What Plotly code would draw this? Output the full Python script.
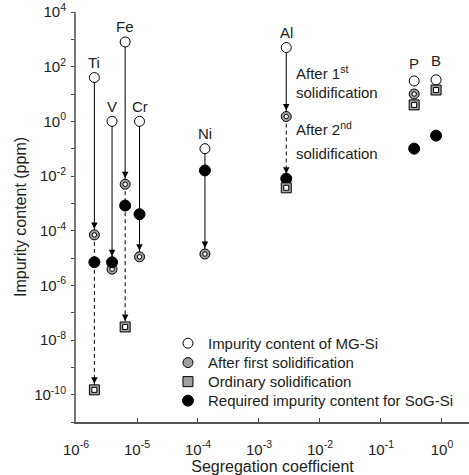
import math
import plotly.graph_objects as go

# ---------------- data ----------------
elements = ["Ti", "V", "Fe", "Cr", "Ni", "Al", "P", "B"]
seg_coef = [2.0e-6, 3.9e-6, 6.4e-6, 1.1e-5, 1.3e-4, 2.8e-3, 0.35, 0.8]
mg_si = [40, 1, 800, 1, 0.1, 500, 30, 33]
after_first = [7e-5, 3.9e-6, 5e-3, 1.1e-5, 1.4e-5, 1.5, 10, None]
ordinary = [1.5e-10, None, 3e-8, None, None, 3.7e-3, 4, 14]
required = [7e-6, 7e-6, 8.3e-4, 4e-4, 1.6e-2, 8e-3, 0.1, 0.3]

x_tick_vals = [1e-6, 1e-5, 1e-4, 1e-3, 1e-2, 1e-1, 1e0]
x_tick_text = ["10<sup>-6</sup>", "10<sup>-5</sup>", "10<sup>-4</sup>", "10<sup>-3</sup>",
               "10<sup>-2</sup>", "10<sup>-1</sup>", "10<sup>0</sup>"]
y_exponents = list(range(-11, 5))
y_tick_vals = [10.0 ** e for e in y_exponents]
y_tick_text = [("10<sup>%d</sup>" % e) if e % 2 == 0 else "" for e in y_exponents]

legend_names = ["Impurity content of MG-Si", "After first solidification",
                "Ordinary solidification", "Required impurity content for SoG-Si"]

# ---------------- styling ----------------
FONT = "Liberation Sans, Arial, sans-serif"
GRAY = "#a0a0a0"
arrow_standoff = {"V": 13}
ord_standoff = {"Al": 14}
label_shift = {"P": 17, "B": 19}
legend_x = 0.234
legend_rows = [0.1916, 0.1443, 0.0979, 0.0515]

fig = go.Figure()

sx, sy, dx, dy = [], [], [], []
for k, m, f, o in zip(seg_coef, mg_si, after_first, ordinary):
    if m is not None and f is not None and f < m * 0.01:
        sx += [k, k, None]
        sy += [m, f, None]
        if o is not None:
            dx += [k, k, None]
            dy += [f, o, None]

fig.add_trace(go.Scatter(x=sx, y=sy, mode="lines", line=dict(color="black", width=1),
                         showlegend=False, hoverinfo="skip"))
fig.add_trace(go.Scatter(x=dx, y=dy, mode="lines",
                         line=dict(color="black", width=1, dash="4px,3px"),
                         showlegend=False, hoverinfo="skip"))

fig.add_trace(go.Scatter(x=seg_coef, y=after_first, mode="markers", name=legend_names[1],
                         legend="legend2",
                         marker=dict(symbol="circle", size=10, color=GRAY,
                                     line=dict(color="black", width=1))))
fig.add_trace(go.Scatter(x=seg_coef, y=after_first, mode="markers", showlegend=False,
                         marker=dict(symbol="circle", size=4.5, color="white",
                                     line=dict(color="black", width=1))))
fig.add_trace(go.Scatter(x=seg_coef, y=required, mode="markers", name=legend_names[3],
                         legend="legend4",
                         marker=dict(symbol="circle", size=11, color="black",
                                     line=dict(color="black", width=1))))
fig.add_trace(go.Scatter(x=seg_coef, y=ordinary, mode="markers", name=legend_names[2],
                         legend="legend3",
                         marker=dict(symbol="square", size=10, color=GRAY,
                                     line=dict(color="black", width=1))))
fig.add_trace(go.Scatter(x=seg_coef, y=ordinary, mode="markers", showlegend=False,
                         marker=dict(symbol="square", size=5, color="white",
                                     line=dict(color="black", width=1))))
fig.add_trace(go.Scatter(x=seg_coef, y=mg_si, mode="markers", name=legend_names[0],
                         legend="legend",
                         marker=dict(symbol="circle", size=10, color="white",
                                     line=dict(color="black", width=1))))

annotations = []
for el, k, m, f, o in zip(elements, seg_coef, mg_si, after_first, ordinary):
    if m is not None and f is not None and f < m * 0.01:
        so = arrow_standoff.get(el, 6)
        annotations.append(dict(x=math.log10(k), y=math.log10(f), xref="x", yref="y",
                                text="", showarrow=True, ax=0, ay=-(so + 8),
                                arrowhead=2, arrowsize=1.3, arrowwidth=1,
                                arrowcolor="black", standoff=so))
        if o is not None:
            so2 = ord_standoff.get(el, 6)
            annotations.append(dict(x=math.log10(k), y=math.log10(o), xref="x", yref="y",
                                    text="", showarrow=True, ax=0, ay=-(so2 + 8),
                                    arrowhead=2, arrowsize=1.3, arrowwidth=1,
                                    arrowcolor="black", standoff=so2))
for el, k, m in zip(elements, seg_coef, mg_si):
    annotations.append(dict(x=math.log10(k), y=math.log10(m), xref="x", yref="y",
                            text=el, showarrow=False, yshift=label_shift.get(el, 15),
                            font=dict(size=15, family=FONT, color="#222")))
al_x = math.log10(seg_coef[elements.index("Al")])
for txt, yy in [("After 1<sup>st</sup>", 1.80), ("solidification", 1.06),
                ("After 2<sup>nd</sup>", -0.26), ("solidification", -1.17)]:
    annotations.append(dict(x=al_x, y=yy, xref="x", yref="y", text=txt, showarrow=False,
                            xanchor="left", xshift=8,
                            font=dict(size=15, family=FONT, color="#222")))
# y-axis title
annotations.append(dict(x=-0.1425, y=0.5, xref="paper", yref="paper",
                        text="Impurity content (ppm)", textangle=-90, showarrow=False,
                        xanchor="center", yanchor="middle",
                        font=dict(size=16, family=FONT, color="#222")))


def legend_box(row_y):
    return dict(x=legend_x, y=row_y, xanchor="left", yanchor="middle",
                bgcolor="rgba(0,0,0,0)", borderwidth=0,
                font=dict(size=15, family=FONT, color="#222"), itemwidth=30)


fig.update_layout(
    template="none",
    width=469, height=475,
    margin=dict(l=76, r=0, t=12, b=53, autoexpand=False),
    plot_bgcolor="white", paper_bgcolor="white",
    font=dict(family=FONT, color="#222", size=14),
    annotations=annotations,
    showlegend=True,
    legend=legend_box(legend_rows[0]),
    legend2=legend_box(legend_rows[1]),
    legend3=legend_box(legend_rows[2]),
    legend4=legend_box(legend_rows[3]),
    xaxis=dict(type="log", range=[-6, 0.443], tickvals=x_tick_vals, ticktext=x_tick_text,
               ticks="inside", ticklen=4, tickcolor="#444", showline=True,
               linecolor="#555", linewidth=1.5, showgrid=False, zeroline=False,
               automargin=False, ticklabelstandoff=13, ticklabeloverflow="allow",
               tickfont=dict(size=15),
               title=dict(text="Segregation coefficient", font=dict(size=16), standoff=0)),
    yaxis=dict(type="log", range=[-11, 4], tickvals=y_tick_vals, ticktext=y_tick_text,
               ticks="outside", ticklen=3, tickcolor="#444", showline=True,
               linecolor="#777", linewidth=2, showgrid=False, zeroline=False,
               automargin=False, ticklabelstandoff=2, ticklabeloverflow="allow",
               tickfont=dict(size=15)),
    xaxis2=dict(type="log", range=[-6, 0.443], overlaying="x", side="top",
                showline=True, linecolor="black", linewidth=1, ticks="",
                showticklabels=False, showgrid=False, zeroline=False, automargin=False),
    yaxis2=dict(type="log", range=[-11, 4], overlaying="y", side="right",
                showline=True, linecolor="black", linewidth=1, ticks="inside", ticklen=4,
                tickcolor="black", tickvals=y_tick_vals, showticklabels=False,
                showgrid=False, zeroline=False, automargin=False),
)

# remove the default page margin so the figure fills the window exactly
fig.write_html("out.html", config={"displayModeBar": False},
               post_script="document.body.style.margin='0';")
